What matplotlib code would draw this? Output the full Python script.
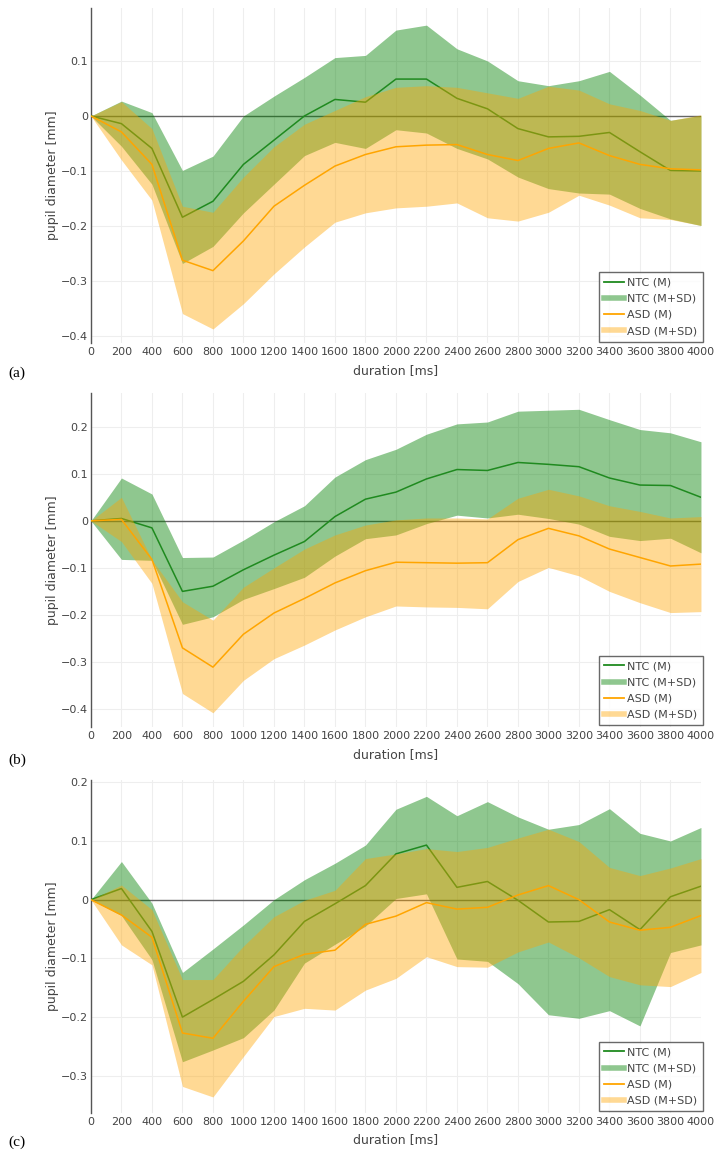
import matplotlib
matplotlib.use("Agg")
import matplotlib.pyplot as plt
from matplotlib.lines import Line2D
from matplotlib.ticker import MultipleLocator, FuncFormatter

# tempo (ms)
duration = list(range(0, 4001, 200))

# painel (a)
ntc_m_a = [0, -0.014, -0.059, -0.184, -0.155, -0.088, -0.044, 0.000, 0.030, 0.025, 0.067,
           0.067, 0.032, 0.013, -0.023, -0.038, -0.037, -0.030, -0.065, -0.099, -0.100]
ntc_hi_a = [0, 0.027, 0.006, -0.099, -0.073, 0.000, 0.036, 0.070, 0.106, 0.110, 0.156,
            0.165, 0.122, 0.100, 0.064, 0.055, 0.064, 0.081, 0.038, -0.008, 0.001]
ntc_lo_a = [0, -0.055, -0.124, -0.268, -0.237, -0.176, -0.124, -0.072, -0.048, -0.059, -0.025,
            -0.031, -0.059, -0.078, -0.111, -0.132, -0.140, -0.142, -0.168, -0.187, -0.199]
asd_m_a = [0, -0.029, -0.088, -0.262, -0.281, -0.227, -0.164, -0.126, -0.091, -0.070, -0.056,
           -0.053, -0.052, -0.070, -0.081, -0.059, -0.049, -0.072, -0.088, -0.096, -0.098]
asd_hi_a = [0, 0.026, -0.023, -0.164, -0.175, -0.111, -0.056, -0.015, 0.010, 0.035, 0.052,
            0.055, 0.052, 0.042, 0.032, 0.054, 0.047, 0.022, 0.010, -0.008, 0.002]
asd_lo_a = [0, -0.080, -0.153, -0.359, -0.387, -0.341, -0.287, -0.238, -0.193, -0.176, -0.167,
            -0.164, -0.158, -0.185, -0.191, -0.175, -0.144, -0.162, -0.185, -0.188, -0.199]

# painel (b)
ntc_m_b = [0, 0.005, -0.015, -0.150, -0.139, -0.104, -0.073, -0.044, 0.009, 0.046, 0.061,
           0.089, 0.109, 0.107, 0.124, 0.120, 0.115, 0.091, 0.076, 0.075, 0.050]
ntc_hi_b = [0, 0.091, 0.057, -0.078, -0.077, -0.041, -0.002, 0.032, 0.093, 0.130, 0.152,
            0.184, 0.206, 0.210, 0.233, 0.235, 0.237, 0.215, 0.194, 0.187, 0.168]
ntc_lo_b = [0, -0.082, -0.084, -0.220, -0.204, -0.167, -0.144, -0.120, -0.075, -0.038, -0.030,
            -0.006, 0.012, 0.006, 0.014, 0.005, -0.007, -0.033, -0.042, -0.037, -0.068]
asd_m_b = [0, 0.003, -0.082, -0.270, -0.311, -0.241, -0.196, -0.165, -0.132, -0.106, -0.088,
           -0.089, -0.090, -0.089, -0.040, -0.016, -0.032, -0.060, -0.078, -0.096, -0.092]
asd_hi_b = [0, 0.050, -0.083, -0.172, -0.211, -0.141, -0.100, -0.060, -0.030, -0.009, 0.002,
            0.006, 0.006, 0.004, 0.048, 0.067, 0.053, 0.032, 0.020, 0.006, 0.009]
asd_lo_b = [0, -0.044, -0.133, -0.367, -0.408, -0.339, -0.293, -0.264, -0.232, -0.204, -0.181,
            -0.183, -0.184, -0.187, -0.129, -0.099, -0.117, -0.150, -0.174, -0.195, -0.193]

# painel (c)
ntc_m_c = [0, 0.019, -0.054, -0.200, -0.170, -0.139, -0.094, -0.037, -0.007, 0.024, 0.078,
           0.093, 0.021, 0.031, -0.001, -0.038, -0.037, -0.017, -0.051, 0.005, 0.023]
ntc_hi_c = [0, 0.065, -0.006, -0.124, -0.084, -0.043, 0.000, 0.034, 0.062, 0.093, 0.154,
            0.176, 0.143, 0.167, 0.141, 0.120, 0.128, 0.155, 0.113, 0.100, 0.123]
ntc_lo_c = [0, -0.027, -0.102, -0.276, -0.256, -0.235, -0.188, -0.108, -0.076, -0.045, 0.002,
            0.010, -0.101, -0.105, -0.143, -0.196, -0.202, -0.189, -0.215, -0.090, -0.077]
asd_m_c = [0, -0.026, -0.064, -0.227, -0.236, -0.173, -0.114, -0.093, -0.086, -0.042, -0.028,
           -0.005, -0.016, -0.013, 0.008, 0.024, 0.000, -0.038, -0.052, -0.047, -0.027]
asd_hi_c = [0, 0.025, -0.017, -0.136, -0.136, -0.079, -0.029, -0.001, 0.016, 0.070, 0.078,
            0.087, 0.082, 0.089, 0.105, 0.120, 0.099, 0.055, 0.041, 0.054, 0.070]
asd_lo_c = [0, -0.077, -0.111, -0.318, -0.336, -0.267, -0.199, -0.185, -0.188, -0.154, -0.134,
            -0.097, -0.114, -0.115, -0.089, -0.072, -0.099, -0.131, -0.145, -0.148, -0.124]

GREEN = "#008000"
GREEN_LINE = "#1f8a1f"
ORANGE = "#ffa500"
TEXT = "#444444"


def fmt_y(v, pos):
    if abs(v) < 1e-9:
        return "0"
    return f"{v:.1f}".replace("-", "\u2212")


def draw_panel(ax, ntc_m, ntc_lo, ntc_hi, asd_m, asd_lo, asd_hi, ylim):
    ax.axhline(0, color="#666666", lw=1.0, zorder=1)
    ax.fill_between(duration, ntc_lo, ntc_hi, color=GREEN, alpha=0.44, lw=0, zorder=2)
    ax.plot(duration, ntc_m, color=GREEN_LINE, lw=1.1, zorder=3)
    ax.fill_between(duration, asd_lo, asd_hi, color=ORANGE, alpha=0.42, lw=0, zorder=4)
    ax.plot(duration, asd_m, color=ORANGE, lw=1.1, zorder=5)

    ax.set_xlim(0, 4000)
    ax.set_ylim(*ylim)
    ax.xaxis.set_major_locator(MultipleLocator(200))
    ax.yaxis.set_major_locator(MultipleLocator(0.1))
    ax.yaxis.set_major_formatter(FuncFormatter(fmt_y))
    ax.grid(True, color="#eeeeee", lw=0.8)
    ax.set_axisbelow(True)
    for s in ["top", "right", "bottom"]:
        ax.spines[s].set_visible(False)
    ax.spines["left"].set_color("#555555")
    ax.spines["left"].set_linewidth(1.0)
    ax.tick_params(length=0, labelsize=8, labelcolor=TEXT)
    ax.tick_params(axis="x", pad=3)
    ax.tick_params(axis="y", pad=2)

    ax.set_ylabel("pupil diameter [mm]", fontsize=9, color=TEXT)
    ax.yaxis.set_label_coords(-0.052, 0.5)
    ax.set_xlabel("duration [ms]", fontsize=9, color=TEXT)
    ax.xaxis.set_label_coords(0.5, -0.062)

    handles = [
        Line2D([], [], color=GREEN_LINE, lw=1.3),
        Line2D([], [], color=GREEN, alpha=0.44, lw=4),
        Line2D([], [], color=ORANGE, lw=1.3),
        Line2D([], [], color=ORANGE, alpha=0.42, lw=4),
    ]
    labels = ["NTC (M)", "NTC (M+SD)", "ASD (M)", "ASD (M+SD)"]
    leg = ax.legend(handles, labels, loc="lower right", bbox_to_anchor=(1.003, 0.005),
                    fontsize=8, handlelength=1.75, handletextpad=0.3, borderpad=0.5,
                    labelspacing=0.55, fancybox=False, borderaxespad=0.0)
    leg.get_frame().set_edgecolor("#444444")
    leg.get_frame().set_linewidth(1.0)
    for t in leg.get_texts():
        t.set_color(TEXT)


fig = plt.figure(figsize=(7.16, 11.52), dpi=100)

ax_a = fig.add_axes([0.127, 0.702, 0.852, 0.291])
ax_b = fig.add_axes([0.127, 0.369, 0.852, 0.290])
ax_c = fig.add_axes([0.127, 0.034, 0.852, 0.289])

draw_panel(ax_a, ntc_m_a, ntc_lo_a, ntc_hi_a, asd_m_a, asd_lo_a, asd_hi_a, (-0.413, 0.196))
draw_panel(ax_b, ntc_m_b, ntc_lo_b, ntc_hi_b, asd_m_b, asd_lo_b, asd_hi_b, (-0.438, 0.272))
draw_panel(ax_c, ntc_m_c, ntc_lo_c, ntc_hi_c, asd_m_c, asd_lo_c, asd_hi_c, (-0.363, 0.204))

# rotulos dos paineis
for label, ypix in [("(a)", 373), ("(b)", 760), ("(c)", 1142)]:
    fig.text(0.012, 1 - ypix / 1152, label, family="Liberation Serif", fontsize=11,
             va="center", ha="left", color="black")

fig.savefig("out.png", dpi=100)
